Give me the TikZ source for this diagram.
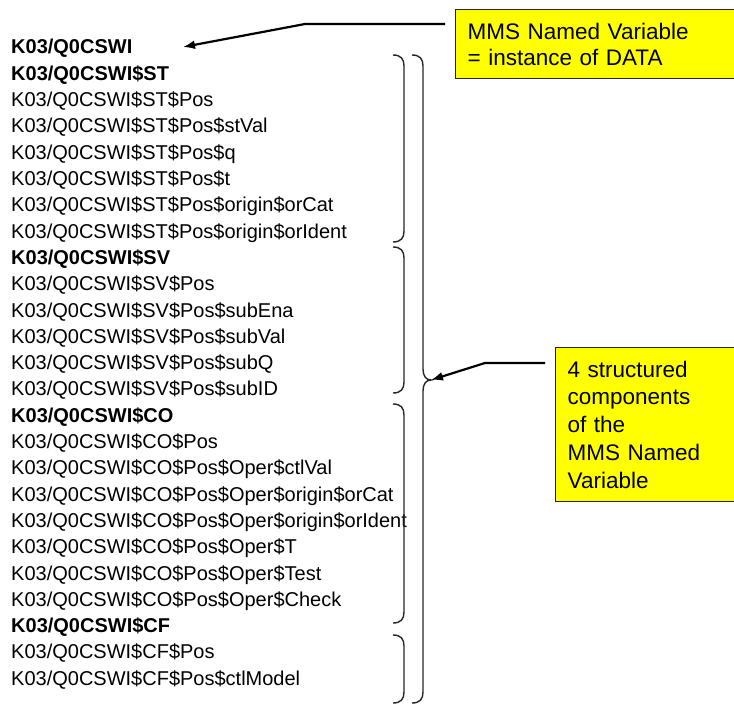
\documentclass[tikz,border=0pt]{standalone}
\usepackage{fontspec}
\setmainfont{Liberation Sans}
\usetikzlibrary{arrows.meta}
\definecolor{gelb}{HTML}{FFFF00}
\definecolor{rand}{HTML}{262626}
\tikzset{
  zeile/.style={inner sep=0pt,anchor=base west,font=\fontsize{20}{24}\selectfont},
  fett/.style={zeile,font=\fontsize{20}{24}\selectfont\bfseries},
  kasten/.style={fill=gelb,draw=rand,line width=1.4pt,anchor=north west,align=left,inner xsep=12pt,text width=270pt},
  pfeil/.style={-{Latex[length=12pt,width=9pt]},line width=2.2pt},
  klammer/.style={rand,line width=1.4pt},
}
\newcommand{\rklammer}[3]{%
  \draw[klammer] ({#1-11},#2) .. controls ({#1-3},#2) and (#1,{#2+4}) .. (#1,{#2+11})
    -- (#1,{#3-11}) .. controls (#1,{#3-4}) and ({#1-3},#3) .. ({#1-11},#3);}

\begin{document}
\begin{tikzpicture}[x=1pt,y=-1pt]
  \useasboundingbox (0,0) rectangle (734,706);
  \clip (0,0) rectangle (734,706);
  \fill[white] (0,0) rectangle (734,706);
  \foreach \st/\tx [count=\i] in {fett/{},fett/\$ST,zeile/\$ST\$Pos,zeile/\$ST\$Pos\$stVal,
      zeile/\$ST\$Pos\$q,zeile/\$ST\$Pos\$t,zeile/\$ST\$Pos\$origin\$orCat,
      zeile/\$ST\$Pos\$origin\$orIdent,fett/\$SV,zeile/\$SV\$Pos,zeile/\$SV\$Pos\$subEna,
      zeile/\$SV\$Pos\$subVal,zeile/\$SV\$Pos\$subQ,zeile/\$SV\$Pos\$subID,fett/\$CO,
      zeile/\$CO\$Pos,zeile/\$CO\$Pos\$Oper\$ctlVal,zeile/\$CO\$Pos\$Oper\$origin\$orCat,
      zeile/\$CO\$Pos\$Oper\$origin\$orIdent,zeile/\$CO\$Pos\$Oper\$T,
      zeile/\$CO\$Pos\$Oper\$Test,zeile/\$CO\$Pos\$Oper\$Check,fett/\$CF,
      zeile/\$CF\$Pos,zeile/\$CF\$Pos\$ctlModel}
    \node[\st] (z\i) at (11,{54+(\i-1)*26.3}) {K03/Q0CSWI\tx};

  \node[kasten,minimum height=69pt,font=\fontsize{22.5}{26}\selectfont] (mnv) at (455,9)
    {MMS Named Variable\\= instance of DATA};
  \node[kasten,minimum height=154pt,font=\fontsize{22.5}{27.8}\selectfont] (komp) at (555,347)
    {4 structured\\components\\of the\\MMS Named\\Variable};

  \rklammer{404}{55}{242}
  \rklammer{404}{247}{393}
  \rklammer{404}{404}{623}
  \rklammer{404}{635}{703}
  \coordinate (spitze) at (431,380);
  \draw[klammer] (412,55) .. controls (420,55) and (423,59) .. (423,66) -- (423,369)
    .. controls (423,376) and (426,380) .. (spitze) .. controls (426,380) and (423,384) .. (423,391)
    -- (423,692) .. controls (423,699) and (420,703) .. (412,703);

  \coordinate (a1) at (445,24);
  \coordinate (a2) at (305,24);
  \coordinate (s1) at (183,47);
  \draw[pfeil] (a1) -- (a2) -- (s1);
  \coordinate (b1) at (545,363);
  \coordinate (b2) at (485,363);
  \draw[pfeil] (b1) -- (b2) -- (spitze);
\end{tikzpicture}
\end{document}
